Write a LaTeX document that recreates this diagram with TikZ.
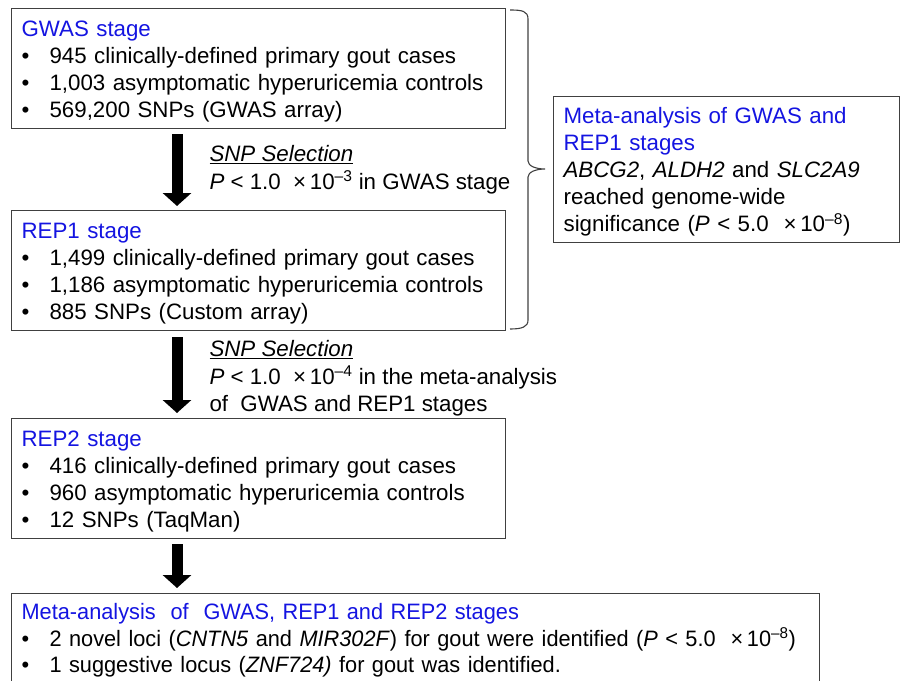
\documentclass[tikz,border=0pt]{standalone}
\usepackage{fontspec}
\setmainfont{Liberation Sans}
\newfontfamily\narrowsans[FakeStretch=0.975]{Liberation Sans}
\usetikzlibrary{arrows.meta, positioning}

\definecolor{stageblue}{RGB}{20,20,225}
\definecolor{boxgray}{RGB}{64,64,64}
\newcommand{\bul}{\makebox[28pt][l]{\textbullet}}
\newcommand{\tenpow}[1]{×\,10\textsuperscript{–#1}}
\newcommand{\topstrut}{\rule{0pt}{21pt}}

\tikzset{
  stagebox/.style={draw=boxgray, line width=1.2pt, anchor=north west, align=left,
    inner xsep=10pt, font=\fontsize{22.3}{27}\selectfont},
  bigarrow/.style={line width=11pt, -{Triangle[width=28pt,length=13pt]}},
  sellabel/.style={align=left, inner sep=0pt, font=\fontsize{22.3}{27.5}\selectfont}
}

\begin{document}
\begin{tikzpicture}[x=1pt,y=-1pt]
\useasboundingbox (0,0) rectangle (901,680);
\clip (0,0) rectangle (901,680);

\coordinate (ax) at (177,0);

% stages
\node[stagebox, text width=474pt, minimum height=120pt] (gwas) at (11,8)
  {\topstrut\textcolor{stageblue}{GWAS stage}\\
   \bul 945 clinically-defined primary gout cases\\
   \bul 1,003 asymptomatic hyperuricemia controls\\
   \bul 569,200 SNPs (GWAS array)};

\node[stagebox, text width=474pt, minimum height=120pt] (rep1) at (11,210)
  {\topstrut\textcolor{stageblue}{REP1 stage}\\
   \bul 1,499 clinically-defined primary gout cases\\
   \bul 1,186 asymptomatic hyperuricemia controls\\
   \bul 885 SNPs (Custom array)};

\node[stagebox, text width=474pt, minimum height=120pt] (rep2) at (11,418)
  {\topstrut\textcolor{stageblue}{REP2 stage}\\
   \bul 416 clinically-defined primary gout cases\\
   \bul 960 asymptomatic hyperuricemia controls\\
   \bul 12 SNPs (TaqMan)};

\node[stagebox, text width=788pt, minimum height=94pt,
      font=\narrowsans\fontsize{22.3}{26.5}\selectfont] (final) at (11,593)
  {\textcolor{stageblue}{Meta-analysis~ of~ GWAS, REP1 and REP2 stages}\\
   \bul 2 novel loci (\textit{CNTN5} and \textit{MIR302F}) for gout were identified (\textit{P} < 5.0~ \tenpow{8})\\
   \bul 1 suggestive locus (\textit{ZNF724)} for gout was identified.};

\node[stagebox, text width=326pt, minimum height=146pt] (meta) at (553,96)
  {\topstrut\textcolor{stageblue}{Meta-analysis of GWAS and}\\
   \textcolor{stageblue}{REP1 stages}\\
   \textit{ABCG2}, \textit{ALDH2} and \textit{SLC2A9}\\
   reached genome-wide\\
   significance (\textit{P} < 5.0~ \tenpow{8})};

% selection arrows
\draw[bigarrow, shorten <=5pt, shorten >=4pt] (gwas.south -| ax) -- (rep1.north -| ax)
  node[midway, right=27pt, sellabel] (sel1)
  {\underline{\textit{SNP Selection}}\\
   \textit{P} < 1.0~ \tenpow{3} in GWAS stage};

\draw[bigarrow, shorten <=6pt, shorten >=5pt] (rep1.south -| ax) -- (rep2.north -| ax)
  node[midway, right=27pt, yshift=-4pt, sellabel] (sel2)
  {\underline{\textit{SNP Selection}}\\
   \textit{P} < 1.0~ \tenpow{4} in the meta-analysis\\
   of~ GWAS and REP1 stages};

\draw[bigarrow, shorten <=5pt, shorten >=5pt] (rep2.south -| ax) -- (final.north -| ax);

% brace
\draw[line width=1.1pt, boxgray] (510,10) .. controls (522,10) and (528,11) .. (528,19)
  -- (528,161) .. controls (528,166) and (536,169) .. (545,169)
  .. controls (536,169) and (528,172) .. (528,177) -- (528,320)
  .. controls (528,327) and (522,329) .. (510,329);

\end{tikzpicture}
\end{document}
